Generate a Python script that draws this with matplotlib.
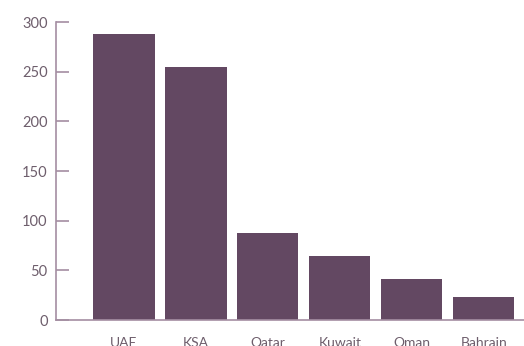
import matplotlib.pyplot as plt

# Объёмы по странам Персидского залива
countries = ['UAE', 'KSA', 'Qatar', 'Kuwait', 'Oman', 'Bahrain']
values = [288, 255, 88, 65, 41, 23]

bar_color = '#634862'
axis_color = '#a48ea2'
text_color = '#6e5e6c'

plt.rcParams['font.family'] = ['Lato', 'DejaVu Sans']

fig = plt.figure(figsize=(5.24, 3.46), dpi=100)
ax = fig.add_axes([0.107, 0.075, 0.893, 0.861])

x = range(len(countries))
ax.bar(x, values, width=0.85, color=bar_color)

ax.set_xlim(-0.944, 5.56)
ax.set_ylim(0, 300)
ax.set_yticks([0, 50, 100, 150, 200, 250, 300])
ax.set_xticks(list(x))
ax.set_xticklabels(countries)

for side in ['top', 'right']:
    ax.spines[side].set_visible(False)
for side in ['left', 'bottom']:
    ax.spines[side].set_color(axis_color)
    ax.spines[side].set_linewidth(1.2)

ax.tick_params(axis='y', direction='in', length=9, width=1.2, color=axis_color,
               labelcolor=text_color, labelsize=10.5, pad=6)
ax.tick_params(axis='x', length=0, labelcolor=text_color, labelsize=10, pad=12.5)

fig.savefig('out.png', dpi=100)
